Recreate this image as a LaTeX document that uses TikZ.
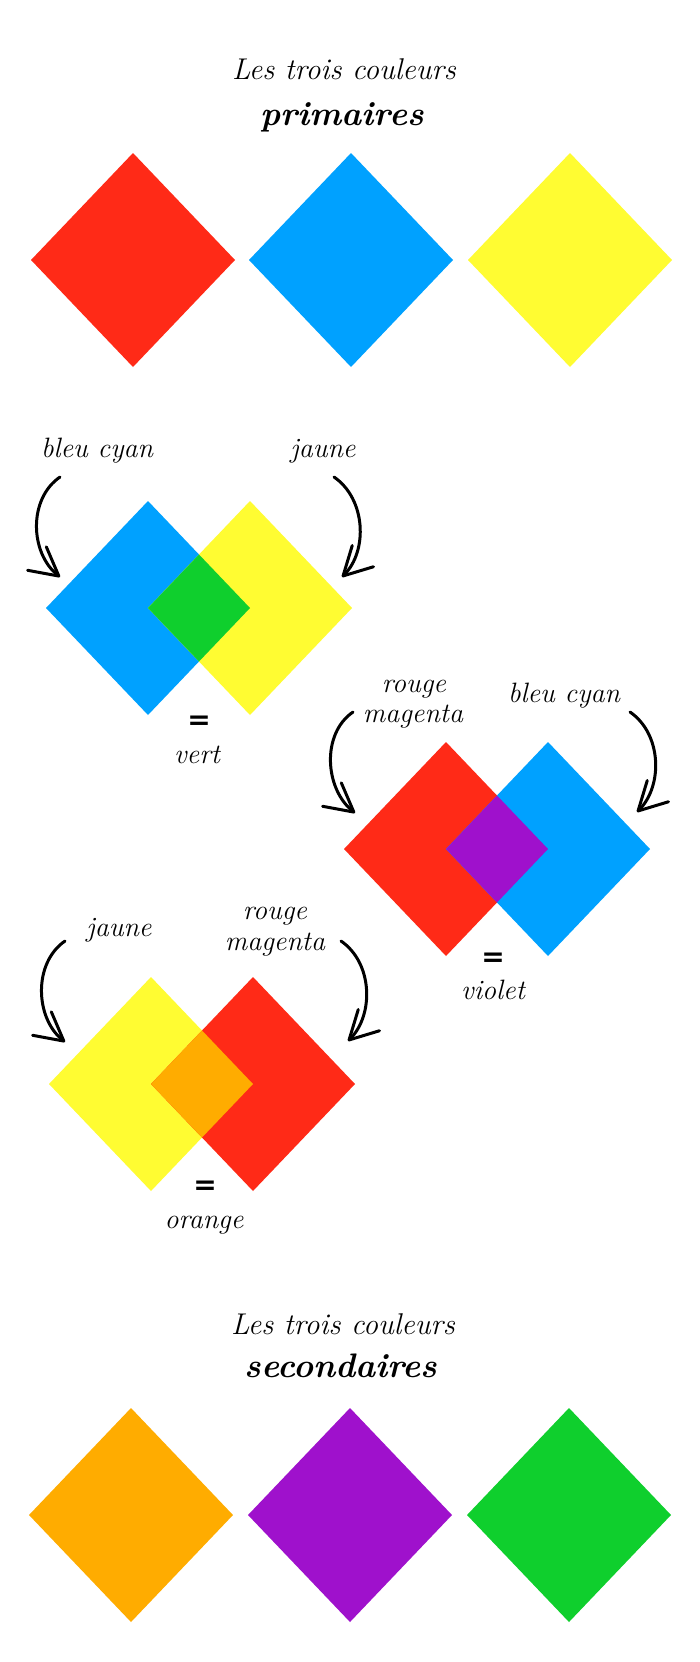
\documentclass[tikz,border=0pt]{standalone}
\usepackage{fontspec}
\newfontfamily\egalfont{DejaVu Sans}
\usetikzlibrary{arrows.meta}

\definecolor{rouge}{HTML}{FF2A17}
\definecolor{bleu}{HTML}{00A1FF}
\definecolor{jaune}{HTML}{FFFC32}
\definecolor{vert}{HTML}{0FCF2D}
\definecolor{violet}{HTML}{9F11CC}
\definecolor{orange}{HTML}{FFAC00}

\tikzset{
  fleche/.style={line width=3pt, line cap=round, -{Straight Barb[length=28pt,width=30pt,round]}},
  mot/.style={font=\itshape\fontsize{28}{30}\selectfont, anchor=base, inner sep=0pt},
  titre/.style={font=\itshape\fontsize{30}{32}\selectfont, anchor=base, inner sep=0pt},
  titregras/.style={font=\bfseries\itshape\fontsize{34}{36}\selectfont, anchor=base, inner sep=0pt},
  egal/.style={font=\egalfont\bfseries\fontsize{28}{28}\selectfont, inner sep=0pt},
}

% grand losange de couleur (centre x, centre y, couleur)
\newcommand{\losange}[3]{\fill[#3] (#1-102,#2) -- (#1,#2-107) -- (#1+102,#2) -- (#1,#2+107) -- cycle;}
% zone commune de deux losanges
\newcommand{\petitlosange}[3]{\fill[#3] (#1-51,#2) -- (#1,#2-53.5) -- (#1+51,#2) -- (#1,#2+53.5) -- cycle;}

\begin{document}
\begin{tikzpicture}[x=1pt,y=-1pt]
		\useasboundingbox (0,0) rectangle (700,1662);
		\fill[white] (0,0) rectangle (700,1662);
		
		% titre du haut
		\node[titre] (titre1) at (344,80) {Les trois couleurs};
		\node[titregras] (prim) at (342,125) {primaires};
		
		% les trois couleurs primaires
		\losange{133}{260}{rouge}
		\losange{351}{260}{bleu}
		\losange{570}{260}{jaune}
		
		% bleu cyan + jaune = vert
		\losange{148}{608}{bleu}
		\losange{250}{608}{jaune}
		\petitlosange{199}{608}{vert}
		\node[mot] (bc1) at (97,457) {bleu cyan};
		\node[mot] (ja1) at (323,457) {jaune};
		\coordinate (bc1a) at (60,477);
		\coordinate (bc1b) at (60,577);
		\coordinate (ja1a) at (334,477);
		\coordinate (ja1b) at (342,577);
		\draw[fleche] (bc1a) .. controls +(-32,22) and +(-30,-24) .. (bc1b);
		\draw[fleche] (ja1a) .. controls +(32,22) and +(26,-26) .. (ja1b);
		\node[egal] (eg1) at (199,723) {=};
		\node[mot] (vert) at (197,763) {vert};
		
		% rouge magenta + bleu cyan = violet
		\losange{446}{849}{rouge}
		\losange{548}{849}{bleu}
		\petitlosange{497}{849}{violet}
		\node[mot] (ro2) at (414,692) {rouge};
		\node[mot] (ma2) at (413,722) {magenta};
		\node[mot] (bc2) at (564,702) {bleu cyan};
		\coordinate (ro2a) at (353,712);
		\coordinate (ro2b) at (355,813);
		\coordinate (bc2a) at (630,712);
		\coordinate (bc2b) at (637,812);
		\draw[fleche] (ro2a) .. controls +(-32,22) and +(-30,-24) .. (ro2b);
		\draw[fleche] (bc2a) .. controls +(32,22) and +(26,-26) .. (bc2b);
		\node[egal] (eg2) at (493,960) {=};
		\node[mot] (viol) at (493,999) {violet};
		
		% jaune + rouge magenta = orange
		\losange{151}{1084}{jaune}
		\losange{253}{1084}{rouge}
		\petitlosange{202}{1084}{orange}
		\node[mot] (ja3) at (119,936) {jaune};
		\node[mot] (ro3) at (275,919) {rouge};
		\node[mot] (ma3) at (275,950) {magenta};
		\coordinate (ja3a) at (65,941);
		\coordinate (ja3b) at (65,1042);
		\coordinate (ro3a) at (341,941);
		\coordinate (ro3b) at (348,1041);
		\draw[fleche] (ja3a) .. controls +(-32,22) and +(-30,-24) .. (ja3b);
		\draw[fleche] (ro3a) .. controls +(32,22) and +(26,-26) .. (ro3b);
		\node[egal] (eg3) at (205,1188) {=};
		\node[mot] (oran) at (204,1228) {orange};
		
		% titre du bas
		\node[titre] (titre2) at (343,1334) {Les trois couleurs};
		\node[titregras] (sec) at (341,1377) {secondaires};
		
		% les trois couleurs secondaires
		\losange{131}{1515}{orange}
		\losange{350}{1515}{violet}
		\losange{569}{1515}{vert}
	\end{tikzpicture}
\end{document}
